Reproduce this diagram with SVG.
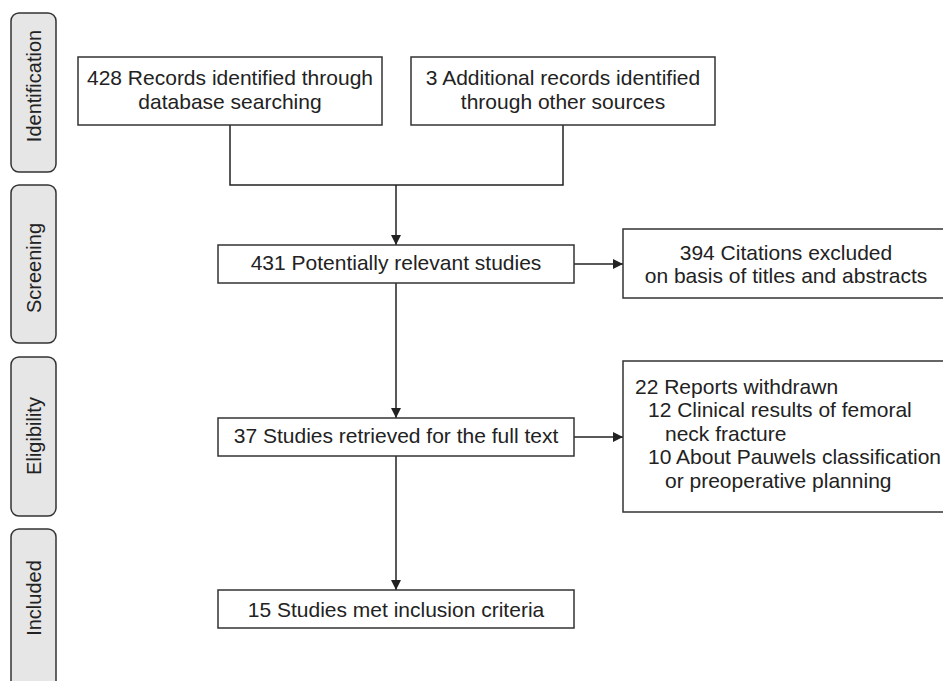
<svg xmlns="http://www.w3.org/2000/svg" width="943" height="681" viewBox="0 0 943 681">
<style>
.box{fill:#fff;stroke:#333;stroke-width:1.5}
.phase{fill:#e6e6e6;stroke:#333;stroke-width:1.5}
text{font-family:"Liberation Sans",Arial,sans-serif;fill:#222}
.t{font-size:21px}
.c{text-anchor:middle}
.p{font-size:20px;text-anchor:middle}
.ln{fill:none;stroke:#222;stroke-width:1.5}
</style>
<defs>
<marker id="ah" viewBox="0 0 10 10" refX="10" refY="5" markerWidth="10" markerHeight="10" markerUnits="userSpaceOnUse" orient="auto">
<path d="M0,0 L10,5 L0,10 Z" fill="#222"/>
</marker>
</defs>
<g id="phase-identification"><rect class="phase" x="11" y="13" width="45" height="159" rx="8"/><text class="p" transform="translate(41,86) rotate(-90)">Identification</text></g>
<g id="phase-screening"><rect class="phase" x="11" y="185" width="45" height="158" rx="8"/><text class="p" transform="translate(41,268) rotate(-90)">Screening</text></g>
<g id="phase-eligibility"><rect class="phase" x="11" y="357" width="45" height="159" rx="8"/><text class="p" transform="translate(41,436) rotate(-90)">Eligibility</text></g>
<g id="phase-included"><rect class="phase" x="11" y="529" width="45" height="165" rx="8"/><text class="p" transform="translate(41,598) rotate(-90)">Included</text></g>
<g id="connectors">
<path class="ln" d="M230,125 V185 H563 V125"/>
<path class="ln" d="M396,185 V245" marker-end="url(#ah)"/>
<path class="ln" d="M574,264 H623" marker-end="url(#ah)"/>
<path class="ln" d="M396,283 V418" marker-end="url(#ah)"/>
<path class="ln" d="M574,437 H623" marker-end="url(#ah)"/>
<path class="ln" d="M396,456 V590" marker-end="url(#ah)"/>
</g>
<g id="n-db"><rect class="box" x="78" y="57" width="304" height="68"/><text class="t c" x="230" y="85">428 Records identified through</text><text class="t c" x="230" y="109">database searching</text></g>
<g id="n-other"><rect class="box" x="411" y="57" width="304" height="68"/><text class="t c" x="563" y="85">3 Additional records identified</text><text class="t c" x="563" y="109">through other sources</text></g>
<g id="n-relevant"><rect class="box" x="218" y="245" width="356" height="38"/><text class="t c" x="396" y="270">431 Potentially relevant studies</text></g>
<g id="n-excluded"><rect class="box" x="623" y="229" width="330" height="69"/><text class="t c" x="786" y="260">394 Citations excluded</text><text class="t c" x="786" y="283">on basis of titles and abstracts</text></g>
<g id="n-retrieved"><rect class="box" x="218" y="418" width="356" height="38"/><text class="t c" x="396" y="443">37 Studies retrieved for the full text</text></g>
<g id="n-withdrawn"><rect class="box" x="623" y="361" width="330" height="151"/>
<text class="t" x="635" y="394">22 Reports withdrawn</text>
<text class="t" x="648" y="417">12 Clinical results of femoral</text>
<text class="t" x="665" y="441">neck fracture</text>
<text class="t" x="648" y="464">10 About Pauwels classification</text>
<text class="t" x="665" y="488">or preoperative planning</text></g>
<g id="n-included"><rect class="box" x="218" y="590" width="356" height="38"/><text class="t c" x="396" y="617">15 Studies met inclusion criteria</text></g>
</svg>
